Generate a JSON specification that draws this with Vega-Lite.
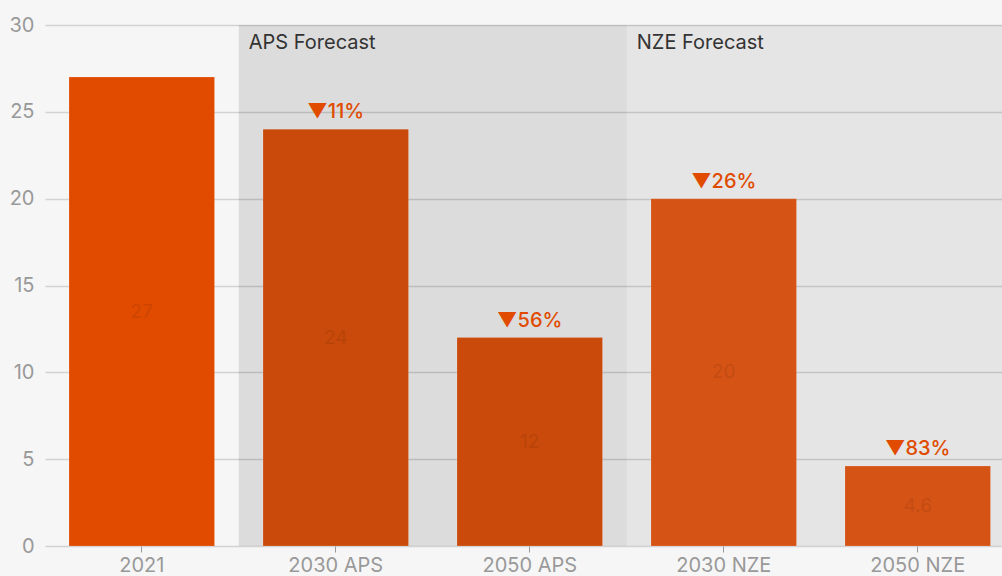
{
  "$schema": "https://vega.github.io/schema/vega-lite/v6.json",
  "width": 957,
  "height": 521,
  "autosize": "none",
  "padding": {"left": 45, "top": 25, "right": 0, "bottom": 30},
  "background": "#f6f6f6",
  "config": {
    "view": {"stroke": null},
    "font": "Inter",
    "axisX": {"domain": false, "tickColor": "#999999", "tickSize": 6, "labelFontSize": 20, "labelColor": "#999999", "labelPadding": 3, "grid": false, "title": null, "labelAngle": 0},
    "axisY": {"domain": false, "ticks": false, "labelFontSize": 20, "labelColor": "#999999", "labelPadding": 11, "gridColor": "#d2d2d2", "gridWidth": 1.5, "title": null}
  },
  "datasets": {
    "bars": [
      {"cat": "2021", "value": 27, "change": ""},
      {"cat": "2030 APS", "value": 24, "change": "▼11%"},
      {"cat": "2050 APS", "value": 12, "change": "▼56%"},
      {"cat": "2030 NZE", "value": 20, "change": "▼26%"},
      {"cat": "2050 NZE", "value": 4.6, "change": "▼83%"}
    ],
    "bands": [
      {"band": "APS Forecast", "start": "2030 APS", "end": "2030 NZE"},
      {"band": "NZE Forecast", "start": "2030 NZE", "end": "2050 NZE"}
    ]
  },
  "layer": [
    {
      "data": {"name": "bands"},
      "transform": [{"filter": "datum.band === 'APS Forecast'"}],
      "mark": {"type": "rect", "fill": "#000000", "opacity": 0.105},
      "encoding": {
        "x": {"field": "start", "type": "nominal", "bandPosition": -0.1667,
              "scale": {"type": "band", "domain": ["2021", "2030 APS", "2050 APS", "2030 NZE", "2050 NZE"], "paddingInner": 0.25, "paddingOuter": 0.0916, "align": 0.676}},
        "x2": {"field": "end", "bandPosition": -0.1667},
        "y": {"value": 0},
        "y2": {"value": "height"}
      }
    },
    {
      "data": {"name": "bands"},
      "transform": [{"filter": "datum.band === 'NZE Forecast'"}],
      "mark": {"type": "rect", "fill": "#000000", "opacity": 0.068},
      "encoding": {
        "x": {"field": "start", "type": "nominal", "bandPosition": -0.1667},
        "x2": {"value": "width"},
        "y": {"value": 0},
        "y2": {"value": "height"}
      }
    },
    {
      "data": {"name": "bands"},
      "mark": {"type": "text", "align": "left", "baseline": "alphabetic", "dx": 10, "dy": 24, "fontSize": 20, "color": "#333333"},
      "encoding": {
        "x": {"field": "start", "type": "nominal", "bandPosition": -0.1667},
        "y": {"value": 0},
        "text": {"field": "band"}
      }
    },
    {
      "data": {"name": "bars"},
      "mark": {"type": "bar", "stroke": "#ffffff", "strokeOpacity": 0.15, "strokeWidth": 1},
      "encoding": {
        "x": {"field": "cat", "type": "nominal", "sort": null},
        "y": {"field": "value", "type": "quantitative", "scale": {"domain": [0, 30]}, "axis": {"values": [0, 5, 10, 15, 20, 25, 30]}},
        "color": {"field": "cat", "type": "nominal", "legend": null,
                  "scale": {"domain": ["2021", "2030 APS", "2050 APS", "2030 NZE", "2050 NZE"], "range": ["#e04b00", "#c94a0a", "#c94a0a", "#d55315", "#d55315"]}}
      }
    },
    {
      "data": {"name": "bars"},
      "transform": [{"calculate": "datum.value / 2", "as": "mid"}],
      "mark": {"type": "text", "fontSize": 19, "fill": "#000000", "opacity": 0.08, "baseline": "middle"},
      "encoding": {
        "x": {"field": "cat", "type": "nominal"},
        "y": {"field": "mid", "type": "quantitative"},
        "text": {"field": "value", "type": "quantitative"}
      }
    },
    {
      "data": {"name": "bars"},
      "transform": [{"filter": "datum.change !== ''"}],
      "mark": {"type": "text", "fontSize": 20, "fontWeight": 500, "color": "#e04b00", "baseline": "alphabetic", "dy": -11},
      "encoding": {
        "x": {"field": "cat", "type": "nominal"},
        "y": {"field": "value", "type": "quantitative"},
        "text": {"field": "change"}
      }
    }
  ]
}
